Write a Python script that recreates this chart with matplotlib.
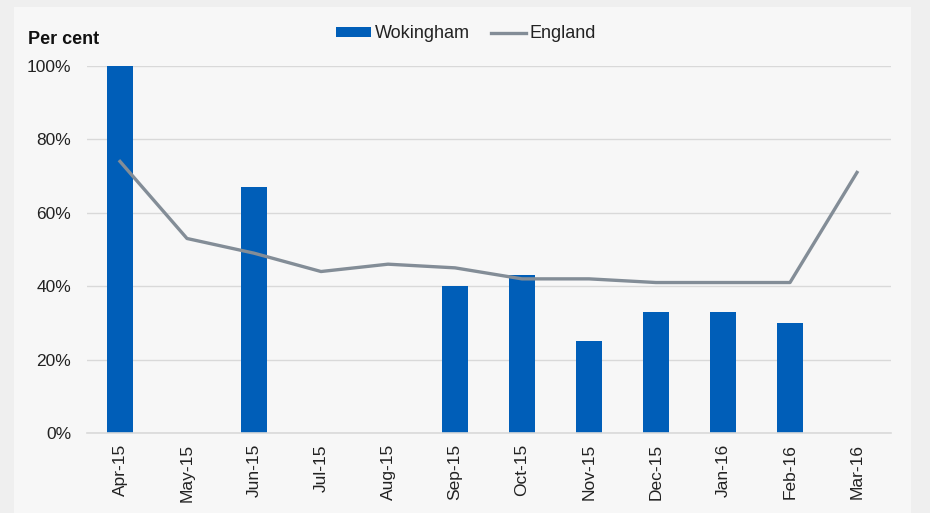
import numpy as np
import matplotlib
matplotlib.use("Agg")
import matplotlib.pyplot as plt
from matplotlib.patches import Rectangle

plt.rcParams['font.family'] = ['Liberation Sans', 'DejaVu Sans']

months = ['Apr-15', 'May-15', 'Jun-15', 'Jul-15', 'Aug-15', 'Sep-15',
          'Oct-15', 'Nov-15', 'Dec-15', 'Jan-16', 'Feb-16', 'Mar-16']
wokingham = [100, np.nan, 67, np.nan, np.nan, 40, 43, 25, 33, 33, 30, np.nan]
england = [74, 53, 49, 44, 46, 45, 42, 42, 41, 41, 41, 71]
yticks = [0, 20, 40, 60, 80, 100]

fig = plt.figure(figsize=(9.3, 5.13), dpi=100, facecolor='#efefef')
# inner light panel
fig.patches.append(Rectangle((14 / 930, 0), (911 - 14) / 930, 1 - 7 / 513,
                             transform=fig.transFigure, facecolor='#f7f7f7',
                             edgecolor='none', zorder=-5))

ax = fig.add_axes([86.5 / 930, 1 - 433 / 513, (890.5 - 86.5) / 930, (433 - 66) / 513])
ax.set_facecolor('none')

x = np.arange(len(months))
bars = ax.bar(x, wokingham, width=0.4, color='#005eb8', label='Wokingham', zorder=2)
line, = ax.plot(x, england, color='#838d97', lw=2.4, label='England', zorder=3)

ax.set_xlim(-0.5, len(months) - 0.5)
ax.set_ylim(0, 100)
ax.set_yticks(yticks)
ax.set_yticklabels([f'{v}%' for v in yticks], fontsize=12.5, color='#222222')
ax.set_xticks(x)
ax.set_xticklabels(months, rotation=90, fontsize=12.5, color='#222222')
ax.tick_params(length=0)
ax.tick_params(axis='x', pad=8)
ax.tick_params(axis='y', pad=11)
ax.grid(axis='y', color='#d9d9d9', lw=1, zorder=1)
ax.set_axisbelow(True)
for s in ['top', 'right', 'left']:
    ax.spines[s].set_visible(False)
ax.spines['bottom'].set_color('#d9d9d9')
ax.spines['bottom'].set_linewidth(1.2)

fig.text(28 / 930, 1 - 40 / 513, 'Per cent', fontsize=13, fontweight='bold',
         color='#111111', va='center', ha='left')

fig.legend([bars, line], ['Wokingham', 'England'], loc='center',
           bbox_to_anchor=(466 / 930, 1 - 34 / 513), ncol=2,
           frameon=False, fontsize=13, handlelength=1.95, handleheight=0.45,
           handletextpad=0.2, columnspacing=1.2, labelcolor='#222222')

fig.savefig('out.png', dpi=100, facecolor=fig.get_facecolor())
